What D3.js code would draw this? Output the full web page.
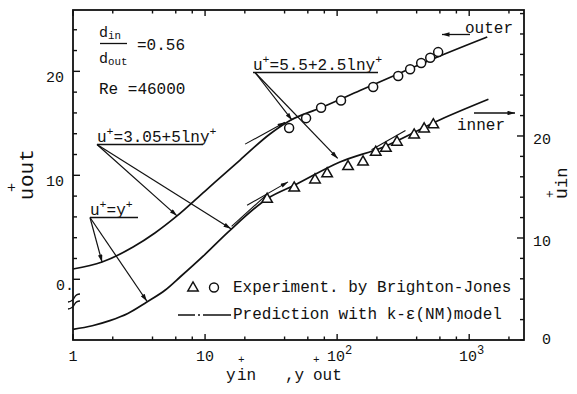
<!DOCTYPE html>
<html>
<head>
<meta charset="utf-8">
<script src="https://cdn.jsdelivr.net/npm/d3@7"></script>
<style>
  body { margin: 0; background: #fff; }
  text { font-family: "Liberation Mono", "DejaVu Sans Mono", monospace; fill: #111; }
</style>
</head>
<body>
<svg id="chart" width="577" height="394"></svg>
<script>
// prediction curves (y+, u+)
const outerYp = [1, 1.66, 2.85, 4.17, 6.13, 10, 18.4, 31, 44, 74.5, 149, 300, 600, 1370]
const outerU = [0.99, 1.66, 3.1, 4.45, 6.09, 8.49, 11.47, 13.97, 15.27, 16.47, 18.15, 19.84, 21.47, 23.3]
const innerYp = [1, 1.4, 1.9, 2.6, 3.6, 5, 6.5, 10, 15, 30, 48, 105, 222, 602, 1398]
const innerU = [1.05, 1.4, 1.9, 2.6, 3.7, 4.9, 6.2, 8.4, 10.6, 13.9, 15.2, 17.45, 18.9, 21.6, 23.6]

// Brighton-Jones experiment
const circleYp = [43.3, 58.2, 75.6, 107, 187.5, 290, 357, 433, 507, 582]
const circleU = [14.55, 15.5, 16.5, 17.2, 18.5, 19.55, 20.2, 20.8, 21.3, 21.85]
const triYp = [29.5, 47.3, 68, 84, 121, 157, 196, 234, 284, 383, 456, 535]
const triU = [13.8, 14.9, 15.7, 16.3, 17.0, 17.45, 18.4, 18.8, 19.4, 20.1, 20.7, 21.1]

// short wall-law pieces drawn next to the curves
const lawOuter = [[20.1, 13.0], [40.3, 15.1]]
const lawInner = [[20.8, 13.2], [42.5, 15.5]]
const bufInner = [[16.3, 10.9], [29.5, 13.9]]
const logInner = [[187, 18.4], [338, 20.3]]

// ticks
const xMajor = [1, 10, 100, 1000]
const xLabels = [['1', ''], ['10', ''], ['10', '2'], ['10', '3']]
const leftTicks = d3.range(0, 26, 2)
const leftLabels = [[0, '0.'], [10, '10'], [20, '20']]
const rightTicks = d3.range(0, 33, 2)
const rightLabels = [[0, '0'], [10, '10'], [20, '20']]

const svg = d3.select('#chart')
const ink = '#111'

// scales
const x = d3.scaleLog().domain([1, 2600]).range([73, 524])
const yOut = d3.scaleLinear().domain([-5.84, 25.9]).range([340, 10])
const yIn = d3.scaleLinear().domain([0, 32.35]).range([340, 10])

const defs = svg.append('defs')
defs.append('marker')
  .attr('id', 'arr')
  .attr('viewBox', '0 0 10 6')
  .attr('refX', 10)
  .attr('refY', 3)
  .attr('markerWidth', 9)
  .attr('markerHeight', 4.5)
  .attr('markerUnits', 'userSpaceOnUse')
  .attr('orient', 'auto')
  .append('path')
  .attr('d', 'M0,0L10,3L0,6Z')
  .attr('fill', ink)

// frame
svg.append('rect')
  .attr('x', 73).attr('y', 10)
  .attr('width', 451).attr('height', 330)
  .attr('fill', 'none')
  .attr('stroke', ink)
  .attr('stroke-width', 1.8)

// x ticks, bottom and top, pointing inward
const xMinor = []
xMajor.forEach(d => [2, 4, 6, 8].forEach(m => { if (d * m < 2600) xMinor.push(d * m) }))
const xt = xMajor.map(d => ({ v: d, len: 6 })).concat(xMinor.map(d => ({ v: d, len: 3.5 })))
svg.selectAll('.xtb').data(xt).enter().append('line')
  .attr('x1', d => x(d.v)).attr('x2', d => x(d.v))
  .attr('y1', 340).attr('y2', d => 340 - d.len)
  .attr('stroke', ink).attr('stroke-width', 1.4)
svg.selectAll('.xtt').data(xt).enter().append('line')
  .attr('x1', d => x(d.v)).attr('x2', d => x(d.v))
  .attr('y1', 10).attr('y2', d => 10 + d.len)
  .attr('stroke', ink).attr('stroke-width', 1.4)

xLabels.forEach((l, i) => {
  const t = svg.append('text')
    .attr('x', x(xMajor[i]) + (l[1] ? 2.5 : 0))
    .attr('y', 361)
    .attr('text-anchor', 'middle')
    .style('font-size', '15px')
  t.append('tspan').text(l[0])
  if (l[1]) t.append('tspan').attr('dy', -7).style('font-size', '12px').text(l[1])
})

// left axis ticks (u+out)
svg.selectAll('.lt').data(leftTicks).enter().append('line')
  .attr('x1', 73).attr('x2', d => 73 + (d % 10 === 0 ? 7 : 4))
  .attr('y1', d => yOut(d)).attr('y2', d => yOut(d))
  .attr('stroke', ink).attr('stroke-width', 1.4)
svg.selectAll('.ll').data(leftLabels).enter().append('text')
  .attr('x', d => d[1] === '0.' ? 74 : 64)
  .attr('y', d => yOut(d[0]) + 10.5)
  .attr('text-anchor', 'end')
  .style('font-size', '15px')
  .text(d => d[1])

// axis break symbol
;[0, 7].forEach(dy => {
  svg.append('path')
    .attr('d', `M80,${294 + dy} C72,${294 + dy} 77,${301 + dy} 68,${302 + dy}`)
    .attr('fill', 'none').attr('stroke', ink).attr('stroke-width', 1.3)
})

// right axis ticks (u+in)
svg.selectAll('.rt').data(rightTicks).enter().append('line')
  .attr('x1', 524).attr('x2', d => 524 - (d === 10 || d === 20 ? 7 : 4))
  .attr('y1', d => yIn(d)).attr('y2', d => yIn(d))
  .attr('stroke', ink).attr('stroke-width', 1.4)
svg.selectAll('.rl').data(rightLabels).enter().append('text')
  .attr('x', 551)
  .attr('y', d => d[0] === 0 ? 344 : yIn(d[0]) + 8)
  .attr('text-anchor', 'end')
  .style('font-size', '15px')
  .text(d => d[1])

// curves
const lineOut = d3.line().x(d => x(d[0])).y(d => yOut(d[1])).curve(d3.curveMonotoneX)
const lineIn = d3.line().x(d => x(d[0])).y(d => yIn(d[1])).curve(d3.curveMonotoneX)

svg.append('path')
  .datum(outerYp.map((d, i) => [d, outerU[i]]))
  .attr('d', lineOut)
  .attr('fill', 'none').attr('stroke', ink).attr('stroke-width', 1.7)
svg.append('path')
  .datum(innerYp.map((d, i) => [d, innerU[i]]))
  .attr('d', lineIn)
  .attr('fill', 'none').attr('stroke', ink).attr('stroke-width', 1.7)

// wall law pieces
svg.append('path').datum(lawOuter).attr('d', lineOut)
  .attr('fill', 'none').attr('stroke', ink).attr('stroke-width', 1.1).attr('marker-end', 'url(#arr)')
svg.append('path').datum(lawInner).attr('d', lineIn)
  .attr('fill', 'none').attr('stroke', ink).attr('stroke-width', 1.1).attr('marker-end', 'url(#arr)')
;[bufInner, logInner].forEach(seg => {
  svg.append('path').datum(seg).attr('d', lineIn)
    .attr('transform', 'translate(-1.5,-2.5)')
    .attr('fill', 'none').attr('stroke', ink).attr('stroke-width', 1.1)
})

// experiment points
svg.selectAll('.circ').data(circleYp).enter().append('circle')
  .attr('cx', d => x(d))
  .attr('cy', (d, i) => yOut(circleU[i]))
  .attr('r', 4.5)
  .attr('fill', '#fff').attr('stroke', ink).attr('stroke-width', 1.5)

const tri = d3.symbol().type(d3.symbolTriangle).size(48)
svg.selectAll('.tri').data(triYp).enter().append('path')
  .attr('d', tri)
  .attr('transform', (d, i) => `translate(${x(d)},${yIn(triU[i])})`)
  .attr('fill', '#fff').attr('stroke', ink).attr('stroke-width', 1.5)

// text helper: parts are [string, 'sup' | 'sub' | null]
function rich(x0, y0, parts, size) {
  const t = svg.append('text').attr('x', x0).attr('y', y0).style('font-size', size + 'px')
  let shift = 0
  parts.forEach(([s, kind]) => {
    const target = kind === 'sup' ? -size * 0.45 : kind === 'sub' ? size * 0.15 : 0
    t.append('tspan')
      .attr('dy', target - shift)
      .style('font-size', (kind ? size * 0.72 : size) + 'px')
      .text(s)
    shift = target
  })
  return t
}

// d_in / d_out and Re
rich(99, 37, [['d', null], ['in', 'sub']], 15)
svg.append('line').attr('x1', 100).attr('x2', 127).attr('y1', 43.5).attr('y2', 43.5)
  .attr('stroke', ink).attr('stroke-width', 1.3)
rich(99, 63, [['d', null], ['out', 'sub']], 15)
rich(137, 50, [['=0.56', null]], 16)
rich(99, 94, [['Re =46000', null]], 16)

// wall law labels with underline and arrows
rich(90, 215, [['u', null], ['+', 'sup'], ['=y', null], ['+', 'sup']], 16)
rich(97, 142, [['u', null], ['+', 'sup'], ['=3.05+5lny', null], ['+', 'sup']], 16)
rich(253, 70, [['u', null], ['+', 'sup'], ['=5.5+2.5lny', null], ['+', 'sup']], 16)

const underlines = [[90, 138, 217.5], [97, 203, 144.5], [253, 378, 72.5]]
underlines.forEach(u => {
  svg.append('line').attr('x1', u[0]).attr('x2', u[1]).attr('y1', u[2]).attr('y2', u[2])
    .attr('stroke', ink).attr('stroke-width', 1.3)
})

const arrows = [
  { from: [90, 217.5], to: [1.66, 1.65], axis: 'out' },
  { from: [90, 217.5], to: [3.63, 3.8], axis: 'in' },
  { from: [97, 144.5], to: [6.13, 6.1], axis: 'out' },
  { from: [97, 144.5], to: [15.7, 10.9], axis: 'in' },
  { from: [255, 72.5], to: [45.6, 15.3], axis: 'out' },
  { from: [255, 72.5], to: [101, 17.8], axis: 'in' }
]
svg.selectAll('.arr').data(arrows).enter().append('line')
  .attr('x1', d => d.from[0]).attr('y1', d => d.from[1])
  .attr('x2', d => x(d.to[0]))
  .attr('y2', d => (d.axis === 'out' ? yOut : yIn)(d.to[1]))
  .attr('stroke', ink).attr('stroke-width', 1.2)
  .attr('marker-end', 'url(#arr)')

// outer / inner side notes
rich(465, 33, [['outer', null]], 16)
svg.append('line').attr('x1', 470).attr('x2', 442).attr('y1', 34.5).attr('y2', 34.5)
  .attr('stroke', ink).attr('stroke-width', 1.3).attr('marker-end', 'url(#arr)')
rich(457, 130, [['inner', null]], 16)
svg.append('line').attr('x1', 474).attr('x2', 515).attr('y1', 113).attr('y2', 113)
  .attr('stroke', ink).attr('stroke-width', 1.3).attr('marker-end', 'url(#arr)')

// legend
svg.append('path').attr('d', d3.symbol().type(d3.symbolTriangle).size(48))
  .attr('transform', 'translate(193,288)')
  .attr('fill', '#fff').attr('stroke', ink).attr('stroke-width', 1.4)
svg.append('circle').attr('cx', 214).attr('cy', 287.5).attr('r', 4.5)
  .attr('fill', '#fff').attr('stroke', ink).attr('stroke-width', 1.4)
rich(233, 292, [['Experiment. by Brighton-Jones', null]], 16)
svg.append('line').attr('x1', 178).attr('x2', 231).attr('y1', 315).attr('y2', 315)
  .attr('stroke', ink).attr('stroke-width', 1.3).attr('stroke-dasharray', '17,3,2,3,28')
rich(233, 319, [['Prediction with k-\u03b5(NM)model', null]], 16)

// axis titles
const lt = svg.append('g').attr('transform', 'translate(33,200) rotate(-90)')
lt.append('text').attr('x', 0).attr('y', 0).style('font-size', '20px').text('u')
lt.append('text').attr('x', 13).attr('y', 0).style('font-size', '21px').text('out')
lt.append('text').attr('x', 8).attr('y', -17).style('font-size', '15px').text('+')

const rt = svg.append('g').attr('transform', 'translate(567,199) rotate(-90)')
rt.append('text').attr('x', 0).attr('y', 0).style('font-size', '18px').text('u')
rt.append('text').attr('x', 11).attr('y', 0).style('font-size', '17px').text('in')
rt.append('text').attr('x', 1).attr('y', -13).style('font-size', '13px').text('+')

const xl = svg.append('g')
xl.append('text').attr('x', 226).attr('y', 380).style('font-size', '16px').text('y')
xl.append('text').attr('x', 237).attr('y', 380).style('font-size', '16px').text('in')
xl.append('text').attr('x', 238).attr('y', 363).style('font-size', '11px').text('+')
xl.append('text').attr('x', 285).attr('y', 380).style('font-size', '16px').text(',y')
xl.append('text').attr('x', 313).attr('y', 363).style('font-size', '11px').text('+')
xl.append('text').attr('x', 313).attr('y', 380).style('font-size', '16px').text('out')
</script>
</body>
</html>
